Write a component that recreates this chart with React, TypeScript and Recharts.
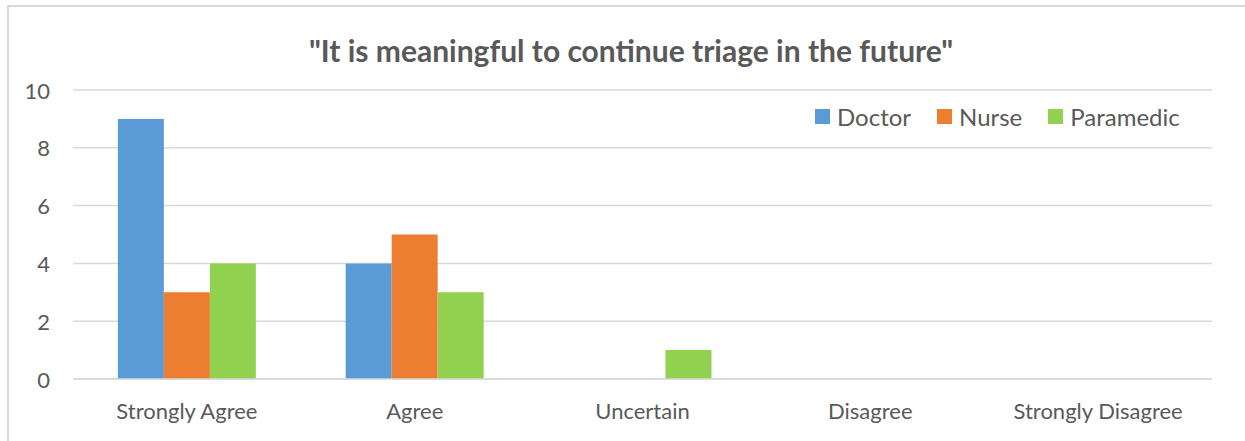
import React from "react";
import { BarChart, Bar, XAxis, YAxis, CartesianGrid } from "recharts";

const categories = ["Strongly Agree", "Agree", "Uncertain", "Disagree", "Strongly Disagree"];
const doctor = [9, 4, 0, 0, 0];
const nurse = [3, 5, 0, 0, 0];
const paramedic = [4, 3, 1, 0, 0];
const yTicks = [0, 2, 4, 6, 8, 10];
const seriesNames = ["Doctor", "Nurse", "Paramedic"];
const seriesColors = ["#5B9BD5", "#ED7D31", "#92D050"];
const title = "\"It is meaningful to continue triage in the future\"";

const data = categories.map((c, i) => ({
  name: c,
  Doctor: doctor[i],
  Nurse: nurse[i],
  Paramedic: paramedic[i],
}));

const FONT = "Lato, 'Open Sans', sans-serif";
const TEXT = "#595959";

const XTick = (props: any) => {
  const { x, y, payload } = props;
  return (
    <text x={x} y={y + 23} textAnchor="middle" dominantBaseline="central" fill={TEXT} fontSize={22} fontFamily={FONT}>
      {payload.value}
    </text>
  );
};

const YTick = (props: any) => {
  const { x, y, payload } = props;
  return (
    <text x={x} y={y} textAnchor="end" dominantBaseline="central" fill={TEXT} fontSize={22} fontFamily={FONT}>
      {payload.value}
    </text>
  );
};

const LegendBox = () => (
  <div style={{ position: "absolute", left: 815, top: 101, height: 30, display: "flex", alignItems: "center", fontFamily: FONT, fontSize: 24, color: TEXT }}>
    {seriesNames.map((n, i) => (
      <div key={n} style={{ display: "flex", alignItems: "center", marginRight: i < 2 ? 26 : 0 }}>
        <div style={{ width: 15, height: 15, background: seriesColors[i], marginRight: 7 }} />
        <span>{n}</span>
      </div>
    ))}
  </div>
);

export default function App() {
  return (
    <div style={{ position: "fixed", left: 0, top: 0, width: 1245, height: 441, background: "#fff", overflow: "hidden" }}>
      <div style={{ position: "absolute", left: 7, top: 5, width: 1245, height: 441, borderLeft: "2px solid #d9d9d9", borderTop: "2px solid #d9d9d9", boxSizing: "border-box" }} />
      <div style={{ position: "absolute", left: 0, width: 1262, top: 32, textAlign: "center", fontFamily: FONT, fontWeight: 700, fontSize: 30, color: TEXT, lineHeight: "36px" }}>
        {title}
      </div>
      <BarChart
        width={1245}
        height={441}
        data={data}
        margin={{ top: 90, right: 33, left: 0, bottom: 0 }}
        barCategoryGap="19.7%"
        barGap={0}
        style={{ position: "absolute", left: 0, top: 0 }}
      >
        <CartesianGrid vertical={false} stroke="#d9d9d9" strokeWidth={1.5} />
        <XAxis
          dataKey="name"
          height={62}
          tick={<XTick />}
          tickLine={false}
          axisLine={{ stroke: "#d9d9d9", strokeWidth: 1.5 }}
          interval={0}
        />
        <YAxis
          width={73}
          domain={[0, 10]}
          ticks={yTicks}
          tick={<YTick />}
          tickLine={false}
          axisLine={false}
          tickMargin={23}
          tickSize={0}
        />
        {seriesNames.map((n, i) => (
          <Bar key={n} dataKey={n} fill={seriesColors[i]} isAnimationActive={false} />
        ))}
      </BarChart>
      <LegendBox />
    </div>
  );
}
